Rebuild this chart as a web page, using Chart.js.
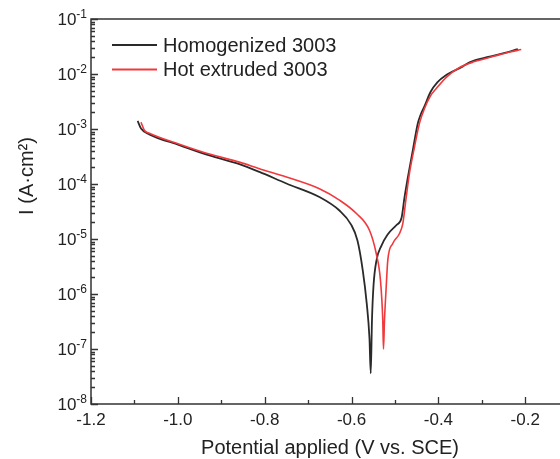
<!DOCTYPE html>
<html>
<head>
<meta charset="utf-8">
<script src="https://cdn.jsdelivr.net/npm/chart.js@4"></script>
<style>
  html, body { margin: 0; padding: 0; background: #fff; }
  #wrap { width: 560px; height: 459px; }
</style>
</head>
<body>
<div id="wrap"><canvas id="tafel"></canvas></div>
<script>
// --- data ---
const seriesNames = ['Homogenized 3003', 'Hot extruded 3003'];
const seriesColors = ['#2a2a2a', '#f0393c'];

// Homogenized 3003: potential (V vs. SCE) / current (A/cm2)
const homoPotential = [-1.0926, -1.0848, -1.0657, -0.9965, -0.9274, -0.8583, -0.8122, -0.750, -0.674, -0.6279,
    -0.6014, -0.5864, -0.5742, -0.565, -0.5588, -0.5558, -0.553, -0.5495, -0.5426, -0.5311,
    -0.5173, -0.4965, -0.485, -0.4781, -0.4705, -0.459, -0.4475, -0.4412, -0.432, -0.4182,
    -0.402, -0.3836, -0.3445, -0.3283, -0.2823, -0.2516, -0.217];
const homoCurrent = [1.41e-3, 1.02e-3, 8.0e-4, 5.1e-4, 3.3e-4, 2.3e-4, 1.66e-4, 1.02e-4, 5.8e-5, 3.3e-5,
    1.85e-5, 9.4e-6, 2.7e-6, 6.7e-7, 1.6e-7, 3.6e-8, 3.3e-7, 1.4e-6, 4.1e-6, 7.6e-6,
    1.2e-5, 1.8e-5, 2.4e-5, 5.7e-5, 1.3e-4, 4.1e-4, 1.26e-3, 1.8e-3, 2.6e-3, 4.7e-3,
    7.1e-3, 9.4e-3, 1.36e-2, 1.63e-2, 2.06e-2, 2.37e-2, 2.84e-2];

// Hot extruded 3003
const extPotential = [-1.0848, -1.0772, -1.0657, -0.9965, -0.9274, -0.8583, -0.8122, -0.750, -0.674, -0.6279,
    -0.5887, -0.5588, -0.5433, -0.5334, -0.5281, -0.5265, -0.5242, -0.5203, -0.5166, -0.5051,
    -0.4896, -0.482, -0.4742, -0.4666, -0.4551, -0.4435, -0.432, -0.4182, -0.4044, -0.3813,
    -0.3514, -0.3168, -0.2707, -0.2362, -0.2092];
const extCurrent = [1.33e-3, 9.5e-4, 8.4e-4, 5.3e-4, 3.5e-4, 2.5e-4, 1.9e-4, 1.34e-4, 8.2e-5, 5.1e-5,
    2.9e-5, 1.44e-5, 5.5e-6, 1.76e-6, 3.3e-7, 1.0e-7, 3.3e-7, 1.3e-6, 4.1e-6, 8.3e-6,
    1.26e-5, 1.9e-5, 5.7e-5, 1.57e-4, 4.7e-4, 1.28e-3, 2.36e-3, 4.0e-3, 5.5e-3, 8.8e-3,
    1.31e-2, 1.68e-2, 2.12e-2, 2.51e-2, 2.78e-2];

// axes
const xTickValues = [-1.2, -1.0, -0.8, -0.6, -0.4, -0.2];
const xMinorValues = [-1.1, -0.9, -0.7, -0.5, -0.3];
const yExponents = [-8, -7, -6, -5, -4, -3, -2, -1];
const xTitle = 'Potential applied (V vs. SCE)';
const yTitle = 'I (A\u00b7cm\u00b2)';

const FONT = '"Liberation Sans", Arial, sans-serif';

function toPoints(xs, ys) {
    return xs.map((v, i) => ({ x: v, y: ys[i] }));
}

// draws the frame, inward ticks, labels, titles and legend
const axesPlugin = {
    id: 'originAxes',
    afterDraw(chart) {
        const ctx = chart.ctx;
        const area = chart.chartArea;
        const xs = chart.scales.x;
        const ys = chart.scales.y;
        ctx.save();
        ctx.strokeStyle = '#333';
        ctx.fillStyle = '#222';
        ctx.lineWidth = 1.5;

        // frame (left, bottom, top)
        ctx.beginPath();
        ctx.moveTo(area.right, area.top);
        ctx.lineTo(area.left, area.top);
        ctx.lineTo(area.left, area.bottom);
        ctx.lineTo(area.right, area.bottom);
        ctx.stroke();

        // x ticks
        ctx.lineWidth = 1.3;
        ctx.beginPath();
        xTickValues.forEach(v => {
            const px = Math.round(xs.getPixelForValue(v)) + 0.5;
            ctx.moveTo(px, area.bottom);
            ctx.lineTo(px, area.bottom - 7);
        });
        xMinorValues.forEach(v => {
            const px = Math.round(xs.getPixelForValue(v)) + 0.5;
            ctx.moveTo(px, area.bottom);
            ctx.lineTo(px, area.bottom - 4);
        });
        // y ticks (log)
        yExponents.forEach(e => {
            const py = Math.round(ys.getPixelForValue(Math.pow(10, e))) + 0.5;
            ctx.moveTo(area.left, py);
            ctx.lineTo(area.left + 7, py);
            if (e < -1) {
                for (let m = 2; m <= 9; m++) {
                    const pm = Math.round(ys.getPixelForValue(m * Math.pow(10, e))) + 0.5;
                    ctx.moveTo(area.left, pm);
                    ctx.lineTo(area.left + 4, pm);
                }
            }
        });
        ctx.stroke();

        // x tick labels
        ctx.font = '17px ' + FONT;
        ctx.textAlign = 'center';
        ctx.textBaseline = 'alphabetic';
        xTickValues.forEach(v => {
            ctx.fillText(v.toFixed(1), xs.getPixelForValue(v), area.bottom + 21);
        });

        // y tick labels 10^n
        yExponents.forEach(e => {
            const py = ys.getPixelForValue(Math.pow(10, e));
            const sup = '-' + Math.abs(e);
            ctx.font = '12px ' + FONT;
            const wSup = ctx.measureText(sup).width;
            ctx.font = '17px ' + FONT;
            const wBase = ctx.measureText('10').width;
            const right = area.left - 4;
            ctx.textAlign = 'left';
            ctx.fillText('10', right - wSup - wBase, py + 6);
            ctx.font = '12px ' + FONT;
            ctx.fillText(sup, right - wSup, py - 1);
        });

        // axis titles
        ctx.font = '20px ' + FONT;
        ctx.textAlign = 'center';
        ctx.fillText(xTitle, 330, 454);
        ctx.save();
        ctx.translate(33, 176);
        ctx.rotate(-Math.PI / 2);
        ctx.fillText(yTitle, 0, 0);
        ctx.restore();

        // legend
        ctx.textAlign = 'left';
        ctx.textBaseline = 'middle';
        chart.data.datasets.forEach((ds, i) => {
            const ly = 45 + i * 24.5;
            ctx.strokeStyle = ds.borderColor;
            ctx.lineWidth = 2;
            ctx.beginPath();
            ctx.moveTo(112, ly);
            ctx.lineTo(157, ly);
            ctx.stroke();
            ctx.fillStyle = '#222';
            ctx.font = '20px ' + FONT;
            ctx.fillText(ds.label, 163, ly + 1);
        });
        ctx.restore();
    }
};

const chart = new Chart(document.getElementById('tafel'), {
    type: 'line',
    data: {
        datasets: [
            {
                label: seriesNames[0],
                data: toPoints(homoPotential, homoCurrent),
                borderColor: seriesColors[0],
                borderWidth: 1.8,
                pointRadius: 0,
                cubicInterpolationMode: 'monotone',
                order: 1
            },
            {
                label: seriesNames[1],
                data: toPoints(extPotential, extCurrent),
                borderColor: seriesColors[1],
                borderWidth: 1.6,
                pointRadius: 0,
                cubicInterpolationMode: 'monotone',
                order: 0
            }
        ]
    },
    options: {
        responsive: true,
        maintainAspectRatio: false,
        animation: false,
        layout: { padding: { left: 91, top: 19, right: 0, bottom: 55 } },
        plugins: { legend: { display: false }, tooltip: { enabled: false } },
        scales: {
            x: { type: 'linear', display: false, min: -1.2, max: -0.12 },
            y: { type: 'logarithmic', display: false, min: 1e-8, max: 1e-1 }
        }
    },
    plugins: [axesPlugin]
});
</script>
</body>
</html>
